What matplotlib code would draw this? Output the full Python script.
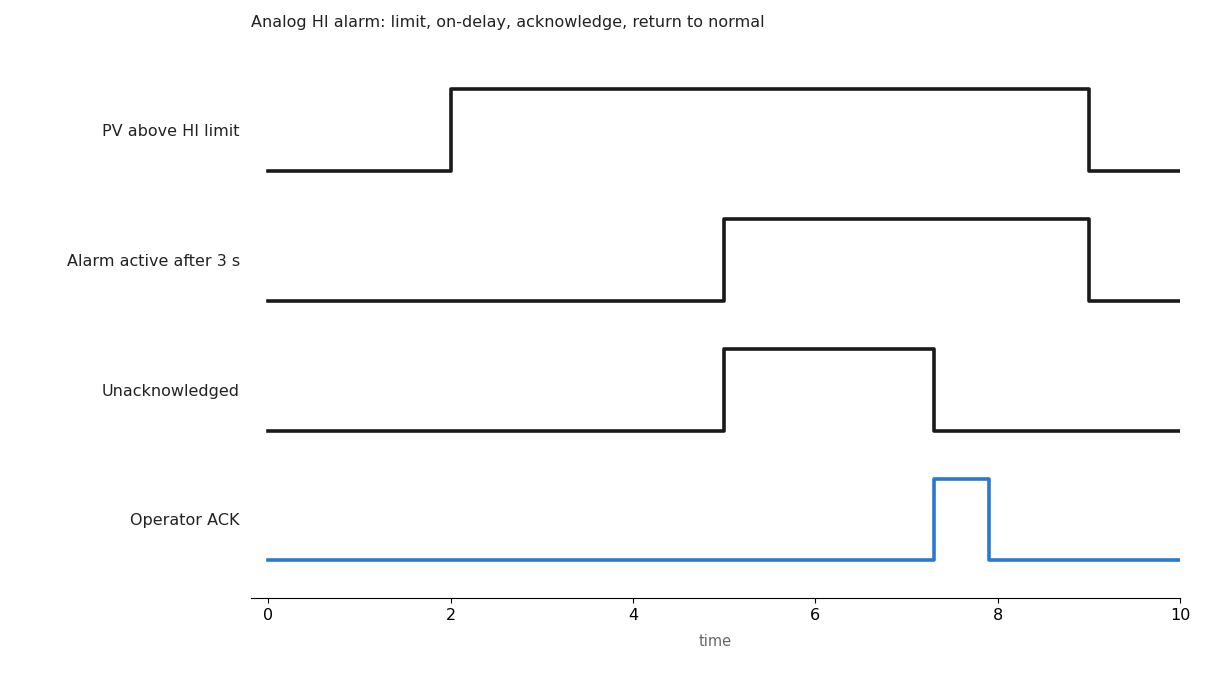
import matplotlib.pyplot as plt

plt.rcParams["font.family"] = ["DejaVu Sans"]

labels = ["PV above HI limit", "Alarm active after 3 s", "Unacknowledged", "Operator ACK"]
times = [
    [0, 2, 9, 10],
    [0, 5, 9, 10],
    [0, 5, 7.3, 10],
    [0, 7.3, 7.9, 10],
]
states = [
    [0, 1, 0, 0],
    [0, 1, 0, 0],
    [0, 1, 0, 0],
    [0, 1, 0, 0],
]
colors = ["#1a1a1a", "#1a1a1a", "#1a1a1a", "#2a77d4"]

amp = 0.63
fig = plt.figure(figsize=(12.09, 6.75), dpi=100)
ax = fig.add_axes([251 / 1209, 1 - 598 / 675, (1180 - 251) / 1209, (598 - 60) / 675])

n = len(labels)
for i, (t, s, c) in enumerate(zip(times, states, colors)):
    base = n - 1 - i
    ax.step(t, [base + amp * v for v in s], where="post", color=c, lw=2.6)

ax.set_yticks([n - 1 - i + amp / 2 for i in range(n)])
ax.set_yticklabels(labels, fontsize=11.5, color="#222222")
ax.tick_params(axis="y", length=0, pad=8)
ax.tick_params(axis="x", labelsize=11.5)
ax.set_xlim(-0.19, 10)
ax.set_ylim(-0.29, 3.855)
ax.set_xticks([0, 2, 4, 6, 8, 10])
for sp in ["left", "top", "right"]:
    ax.spines[sp].set_visible(False)
ax.set_xlabel("time", color="#666666", fontsize=10.5, labelpad=8)

fig.text(251 / 1209, 1 - 23 / 675, "Analog HI alarm: limit, on-delay, acknowledge, return to normal",
         fontsize=11.5, color="#222222", va="center", ha="left")

fig.savefig("out.png", dpi=100)
